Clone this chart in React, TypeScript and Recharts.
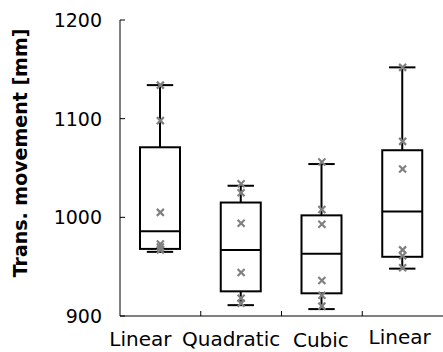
import React from 'react';
import { ComposedChart, Bar, Scatter, XAxis, YAxis, Label } from 'recharts';

// one entry per box, left to right
const CATEGORIES = ['Linear', 'Quadratic', 'Cubic', 'Linear'];
const MIN = [965, 911, 907, 948];
const Q1 = [968, 925, 923, 960];
const MEDIAN = [986, 967, 963, 1006];
const Q3 = [1071, 1015, 1002, 1068];
const MAX = [1134, 1032, 1054, 1152];
const POINTS = [
  [1134, 1098, 1005, 973, 970, 967],
  [1034, 1025, 994, 944, 918, 913],
  [1056, 1008, 993, 936, 921, 910],
  [1152, 1077, 1049, 967, 961, 949],
];
const Y_TICKS = [900, 1000, 1100, 1200];

const boxData = CATEGORIES.map((name, i) => ({
  pos: i + 0.5,
  name,
  min: MIN[i],
  q1: Q1[i],
  median: MEDIAN[i],
  q3: Q3[i],
  max: MAX[i],
}));

const pointData = POINTS.flatMap((vals, i) => vals.map((value) => ({ pos: i + 0.5, value })));

// Excel nudges the crowded category labels a little
const LABEL_NUDGE = [
  { dx: -20, dy: 0 },
  { dx: -10, dy: 0 },
  { dx: -1, dy: 1 },
  { dx: -3, dy: -2 },
];

const FONT = '"DejaVu Sans", sans-serif';

const BoxShape = (props: any) => {
  const { x, y, width, height, payload } = props;
  const { min, q1, median, q3, max } = payload;
  const toY = (v: number) => y + ((max - v) / (max - min)) * height;
  const cx = x + width / 2;
  const cap = width * 0.33;
  return (
    <g stroke="#000" strokeWidth={2} fill="none">
      <line x1={cx} x2={cx} y1={toY(max)} y2={toY(q3)} />
      <line x1={cx} x2={cx} y1={toY(q1)} y2={toY(min)} />
      <line x1={cx - cap} x2={cx + cap} y1={toY(max)} y2={toY(max)} />
      <line x1={cx - cap} x2={cx + cap} y1={toY(min)} y2={toY(min)} />
      <rect x={x} y={toY(q3)} width={width} height={toY(q1) - toY(q3)} fill="#fff" />
      <line x1={x} x2={x + width} y1={toY(median)} y2={toY(median)} />
    </g>
  );
};

const Cross = (props: any) => {
  const { cx, cy } = props;
  const r = 3.5;
  return (
    <g stroke="#808080" strokeWidth={2.2}>
      <line x1={cx - r} y1={cy - r} x2={cx + r} y2={cy + r} />
      <line x1={cx - r} y1={cy + r} x2={cx + r} y2={cy - r} />
    </g>
  );
};

const XTick = (props: any) => {
  const { x, y, payload } = props;
  const v = payload.value;
  if (Number.isInteger(v)) {
    return <line x1={x} x2={x} y1={y} y2={y - 5} stroke="#000" />;
  }
  const i = Math.floor(v);
  const n = LABEL_NUDGE[i] || { dx: 0, dy: 0 };
  return (
    <text x={x + n.dx} y={y + 30 + n.dy} textAnchor="middle" fontSize={20} fontFamily={FONT} fill="#000">
      {CATEGORIES[i]}
    </text>
  );
};

const YTick = (props: any) => {
  const { x, y, payload } = props;
  return (
    <g>
      <line x1={x} x2={x + 5} y1={y} y2={y} stroke="#000" />
      <text x={x - 18} y={y} dy="0.36em" textAnchor="end" fontSize={19} fontFamily={FONT} fill="#000">
        {payload.value}
      </text>
    </g>
  );
};

const App = () => {
  return (
    <div style={{ position: 'absolute', left: 0, top: 0, background: '#fff' }}>
      <ComposedChart width={443} height={352} data={boxData} margin={{ top: 20, right: 0, bottom: 0, left: 0 }}>
        <XAxis
          dataKey="pos"
          type="number"
          domain={[0, 4]}
          ticks={[0.5, 1, 1.5, 2, 2.5, 3, 3.5]}
          interval={0}
          height={36}
          tickLine={false}
          tickSize={0}
          tickMargin={0}
          tick={<XTick />}
          axisLine={{ stroke: '#000' }}
        />
        <YAxis
          type="number"
          domain={[900, 1200]}
          ticks={Y_TICKS}
          interval={0}
          width={120}
          tickLine={false}
          tickSize={0}
          tickMargin={0}
          tick={<YTick />}
          axisLine={{ stroke: '#000' }}
        >
          <Label
            content={(p: any) => {
              const vb = p.viewBox;
              const cx = vb.x + 20;
              const cy = vb.y + vb.height / 2 - 15;
              return (
                <text
                  x={cx}
                  y={cy}
                  transform={`rotate(-90, ${cx}, ${cy})`}
                  textAnchor="middle"
                  dominantBaseline="central"
                  fontSize={19}
                  fontWeight="bold"
                  fontFamily={FONT}
                  fill="#000"
                >
                  Trans. movement [mm]
                </text>
              );
            }}
          />
        </YAxis>
        <Bar dataKey={(d: any) => [d.min, d.max]} barSize={40} shape={<BoxShape />} isAnimationActive={false} />
        <Scatter data={pointData} dataKey="value" shape={<Cross />} isAnimationActive={false} />
      </ComposedChart>
    </div>
  );
};

export default App;
